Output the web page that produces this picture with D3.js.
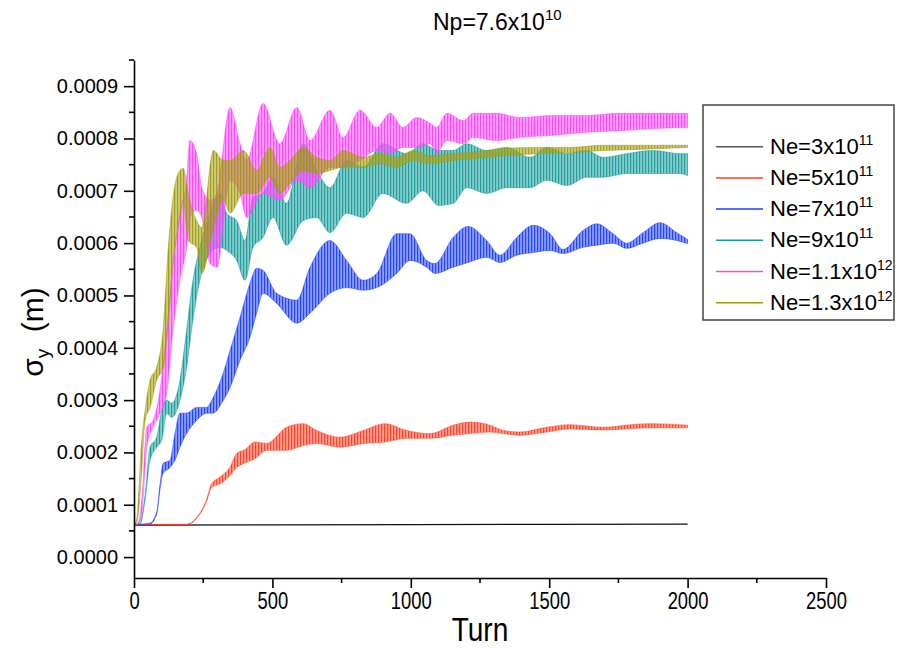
<!DOCTYPE html>
<html>
<head>
<meta charset="utf-8">
<script src="https://cdn.jsdelivr.net/npm/d3@7"></script>
<style>
  body { margin: 0; background: #fff; }
  #chart { width: 902px; height: 651px; }
  text { font-family: "Liberation Sans", Arial, sans-serif; fill: #000; }
</style>
</head>
<body>
<div id="chart"></div>
<script>
// Values (sigma_y in metres). Oscillating bands are given as low/high envelopes.
const xTicks = [0, 500, 1000, 1500, 2000, 2500];
const yTicks = [0, 0.0001, 0.0002, 0.0003, 0.0004, 0.0005, 0.0006, 0.0007, 0.0008, 0.0009];

const seriesNames = ['Ne=3x10', 'Ne=5x10', 'Ne=7x10', 'Ne=9x10', 'Ne=1.1x10', 'Ne=1.3x10'];
const seriesExponents = ['11', '11', '11', '11', '12', '12'];

const ne3Turns = [0, 500, 1000, 1500, 2000];
const ne3Low = [0.61e-4, 0.615e-4, 0.62e-4, 0.625e-4, 0.63e-4];
const ne3High = [0.61e-4, 0.615e-4, 0.62e-4, 0.625e-4, 0.63e-4];

const ne5Turns = [0, 190, 230, 262, 280, 311, 347, 371, 400, 437, 479, 551, 611, 660, 744, 828, 907, 985, 1069, 1153, 1214, 1286, 1334, 1394, 1491, 1575, 1695, 1816, 1864, 2000];
const ne5Low = [0.62e-4, 0.62e-4, 0.76e-4, 1.06e-4, 1.33e-4, 1.40e-4, 1.56e-4, 1.71e-4, 1.80e-4, 1.88e-4, 2.04e-4, 2.04e-4, 2.13e-4, 2.17e-4, 2.10e-4, 2.17e-4, 2.20e-4, 2.27e-4, 2.27e-4, 2.33e-4, 2.36e-4, 2.39e-4, 2.36e-4, 2.33e-4, 2.39e-4, 2.45e-4, 2.43e-4, 2.46e-4, 2.47e-4, 2.47e-4];
const ne5High = [0.62e-4, 0.63e-4, 0.78e-4, 1.10e-4, 1.40e-4, 1.53e-4, 1.72e-4, 1.98e-4, 2.05e-4, 2.20e-4, 2.17e-4, 2.48e-4, 2.55e-4, 2.42e-4, 2.29e-4, 2.42e-4, 2.55e-4, 2.42e-4, 2.36e-4, 2.52e-4, 2.58e-4, 2.52e-4, 2.42e-4, 2.39e-4, 2.48e-4, 2.53e-4, 2.48e-4, 2.54e-4, 2.55e-4, 2.52e-4];

const ne7Turns = [0, 58, 82, 94, 105, 130, 148, 166, 190, 226, 262, 286, 322, 347, 383, 419, 443, 466, 515, 588, 636, 708, 768, 828, 877, 949, 997, 1057, 1087, 1153, 1207, 1274, 1322, 1383, 1442, 1503, 1550, 1622, 1672, 1731, 1780, 1839, 1900, 1961, 2000];
const ne7Low = [0.62e-4, 0.63e-4, 0.82e-4, 1.30e-4, 1.60e-4, 1.71e-4, 1.85e-4, 2.10e-4, 2.36e-4, 2.61e-4, 2.75e-4, 2.75e-4, 2.99e-4, 3.24e-4, 3.76e-4, 4.20e-4, 4.66e-4, 5.04e-4, 4.85e-4, 4.47e-4, 4.66e-4, 5.04e-4, 5.15e-4, 5.10e-4, 5.15e-4, 5.42e-4, 5.67e-4, 5.54e-4, 5.42e-4, 5.54e-4, 5.63e-4, 5.73e-4, 5.63e-4, 5.77e-4, 5.82e-4, 5.86e-4, 5.80e-4, 5.92e-4, 5.96e-4, 6.00e-4, 5.90e-4, 6.00e-4, 6.09e-4, 6.05e-4, 5.99e-4];
const ne7High = [0.62e-4, 0.65e-4, 0.86e-4, 1.38e-4, 1.79e-4, 1.85e-4, 2.36e-4, 2.75e-4, 2.75e-4, 2.86e-4, 2.86e-4, 3.05e-4, 3.51e-4, 3.95e-4, 4.58e-4, 5.23e-4, 5.52e-4, 5.48e-4, 5.04e-4, 4.91e-4, 5.54e-4, 6.05e-4, 5.67e-4, 5.29e-4, 5.42e-4, 6.18e-4, 6.18e-4, 5.67e-4, 5.61e-4, 6.11e-4, 6.32e-4, 6.05e-4, 5.77e-4, 6.11e-4, 6.34e-4, 6.18e-4, 5.88e-4, 6.24e-4, 6.37e-4, 6.18e-4, 6.00e-4, 6.20e-4, 6.39e-4, 6.20e-4, 6.07e-4];

const ne9Turns = [0, 22, 40, 58, 82, 100, 118, 136, 166, 190, 213, 238, 275, 311, 335, 371, 401, 430, 466, 502, 551, 611, 660, 708, 768, 828, 899, 985, 1044, 1100, 1153, 1202, 1274, 1346, 1431, 1491, 1563, 1636, 1695, 1780, 1876, 1973, 2000];
const ne9Low = [0.62e-4, 0.63e-4, 1.10e-4, 1.85e-4, 2.10e-4, 2.23e-4, 2.75e-4, 2.67e-4, 2.99e-4, 3.63e-4, 4.54e-4, 5.29e-4, 5.80e-4, 5.92e-4, 5.86e-4, 5.67e-4, 5.29e-4, 5.92e-4, 6.11e-4, 6.49e-4, 5.96e-4, 6.43e-4, 6.49e-4, 6.20e-4, 6.57e-4, 6.49e-4, 6.95e-4, 6.76e-4, 7.00e-4, 6.72e-4, 6.76e-4, 7.06e-4, 6.95e-4, 7.06e-4, 7.06e-4, 7.20e-4, 7.10e-4, 7.26e-4, 7.26e-4, 7.33e-4, 7.33e-4, 7.33e-4, 7.29e-4];
const ne9High = [0.62e-4, 0.65e-4, 1.18e-4, 2.10e-4, 2.29e-4, 2.80e-4, 3.00e-4, 2.94e-4, 3.38e-4, 4.33e-4, 5.29e-4, 5.92e-4, 6.57e-4, 6.95e-4, 6.57e-4, 6.43e-4, 6.05e-4, 6.87e-4, 6.95e-4, 7.26e-4, 6.76e-4, 7.90e-4, 7.39e-4, 7.06e-4, 7.58e-4, 7.45e-4, 7.90e-4, 7.71e-4, 7.90e-4, 7.77e-4, 7.77e-4, 7.90e-4, 7.77e-4, 7.83e-4, 7.64e-4, 7.83e-4, 7.71e-4, 7.77e-4, 7.64e-4, 7.71e-4, 7.77e-4, 7.71e-4, 7.71e-4];

const ne11Turns = [0, 15, 28, 46, 69, 94, 118, 141, 166, 190, 202, 226, 245, 275, 299, 347, 383, 407, 466, 527, 588, 636, 708, 755, 817, 877, 925, 972, 1021, 1069, 1094, 1130, 1190, 1226, 1310, 1394, 1515, 1636, 1756, 1876, 2000];
const ne11Low = [0.62e-4, 0.63e-4, 0.83e-4, 2.10e-4, 2.48e-4, 2.75e-4, 3.13e-4, 4.33e-4, 5.29e-4, 5.92e-4, 6.49e-4, 6.63e-4, 6.49e-4, 5.61e-4, 5.54e-4, 7.20e-4, 6.95e-4, 6.49e-4, 6.95e-4, 6.82e-4, 7.20e-4, 7.06e-4, 7.45e-4, 7.45e-4, 7.58e-4, 7.77e-4, 7.71e-4, 7.83e-4, 7.83e-4, 7.90e-4, 7.73e-4, 7.96e-4, 7.90e-4, 8.02e-4, 7.96e-4, 8.02e-4, 8.06e-4, 8.12e-4, 8.15e-4, 8.19e-4, 8.21e-4];
const ne11High = [0.62e-4, 0.65e-4, 1.08e-4, 2.48e-4, 2.61e-4, 3.19e-4, 4.33e-4, 5.61e-4, 6.57e-4, 7.20e-4, 7.96e-4, 7.71e-4, 7.06e-4, 6.82e-4, 6.95e-4, 8.59e-4, 7.90e-4, 7.58e-4, 8.67e-4, 7.90e-4, 8.59e-4, 7.96e-4, 8.54e-4, 8.02e-4, 8.54e-4, 8.21e-4, 8.48e-4, 8.21e-4, 8.40e-4, 8.29e-4, 8.21e-4, 8.48e-4, 8.34e-4, 8.48e-4, 8.48e-4, 8.40e-4, 8.44e-4, 8.44e-4, 8.48e-4, 8.48e-4, 8.48e-4];

const ne13Turns = [0, 10, 28, 40, 58, 82, 106, 124, 141, 166, 178, 196, 226, 245, 287, 323, 347, 395, 443, 491, 527, 563, 611, 660, 708, 756, 828, 889, 949, 1009, 1069, 1153, 1214, 1334, 1455, 1575, 1695, 1816, 2000];
const ne13Low = [0.62e-4, 0.66e-4, 1.66e-4, 2.61e-4, 2.86e-4, 3.38e-4, 3.63e-4, 4.47e-4, 5.61e-4, 6.49e-4, 6.82e-4, 6.05e-4, 5.92e-4, 5.42e-4, 6.30e-4, 6.82e-4, 6.57e-4, 6.95e-4, 6.95e-4, 7.26e-4, 6.95e-4, 7.14e-4, 7.39e-4, 7.33e-4, 7.39e-4, 7.45e-4, 7.45e-4, 7.52e-4, 7.45e-4, 7.58e-4, 7.52e-4, 7.58e-4, 7.61e-4, 7.67e-4, 7.71e-4, 7.73e-4, 7.77e-4, 7.79e-4, 7.83e-4];
const ne13High = [0.62e-4, 0.74e-4, 2.23e-4, 2.80e-4, 3.38e-4, 3.63e-4, 4.39e-4, 5.92e-4, 6.87e-4, 7.39e-4, 7.43e-4, 6.95e-4, 6.43e-4, 6.30e-4, 7.77e-4, 7.58e-4, 7.58e-4, 7.77e-4, 7.39e-4, 7.83e-4, 7.45e-4, 7.58e-4, 7.83e-4, 7.64e-4, 7.58e-4, 7.77e-4, 7.64e-4, 7.71e-4, 7.64e-4, 7.77e-4, 7.67e-4, 7.71e-4, 7.73e-4, 7.81e-4, 7.83e-4, 7.83e-4, 7.87e-4, 7.87e-4, 7.87e-4];

const seriesColors = ['#111111', '#ff3b1f', '#1a3cff', '#12999a', '#ff40ff', '#9e9a08'];

const series = [
    { turns: ne3Turns, low: ne3Low, high: ne3High },
    { turns: ne5Turns, low: ne5Low, high: ne5High },
    { turns: ne7Turns, low: ne7Low, high: ne7High },
    { turns: ne9Turns, low: ne9Low, high: ne9High },
    { turns: ne11Turns, low: ne11Low, high: ne11High },
    { turns: ne13Turns, low: ne13Low, high: ne13High }
].map((s, i) => ({ ...s, name: seriesNames[i], exp: seriesExponents[i], color: seriesColors[i] }));

const svg = d3.select('#chart')
    .append('svg')
    .attr('width', 902)
    .attr('height', 651);

// Scales
const x = d3.scaleLinear().domain([0, 2500]).range([134, 826]);
const y = d3.scaleLinear().domain([-0.00004, 0.00095]).range([578, 60]);

// Stripe patterns so the bands look like dense oscillations
const defs = svg.append('defs');
series.forEach((s, i) => {
    const p = defs.append('pattern')
        .attr('id', `stripe${i}`)
        .attr('patternUnits', 'userSpaceOnUse')
        .attr('width', 3)
        .attr('height', 10);
    p.append('rect')
        .attr('width', 3)
        .attr('height', 10)
        .attr('fill', s.color)
        .attr('opacity', 0.5);
    p.append('rect')
        .attr('width', 1.2)
        .attr('height', 10)
        .attr('fill', s.color)
        .attr('opacity', 0.9);
});

// Bands
const plot = svg.append('g');
series.forEach((s, i) => {
    const idx = d3.range(s.turns.length);
    if (i === 0) {
        const line = d3.line()
            .x(j => x(s.turns[j]))
            .y(j => y(s.low[j]));
        plot.append('path')
            .datum(idx)
            .attr('d', line)
            .attr('fill', 'none')
            .attr('stroke', s.color)
            .attr('stroke-width', 1.3);
        return;
    }
    const area = d3.area()
        .x(j => x(s.turns[j]))
        .y0(j => y(s.low[j]))
        .y1(j => y(s.high[j]))
        .curve(d3.curveMonotoneX);
    plot.append('path')
        .datum(idx)
        .attr('d', area)
        .attr('fill', `url(#stripe${i})`)
        .attr('stroke', s.color)
        .attr('stroke-opacity', 0.5)
        .attr('stroke-width', 1)
        .attr('stroke-linejoin', 'round');
});

// X axis
const xMinor = d3.range(250, 2500, 500);
const xAxis = svg.append('g').attr('transform', 'translate(0,578)');
xAxis.call(d3.axisBottom(x).tickValues(xTicks).tickSize(10).tickSizeOuter(0).tickPadding(5).tickFormat(d3.format('d')));
// condensed look of the tick labels
xAxis.selectAll('.tick text')
    .style('font-size', '23px')
    .attr('transform', 'scale(0.8,1)');
xAxis.selectAll('line, path').attr('stroke', '#000').attr('stroke-width', 1.6);
xAxis.selectAll('.minor')
    .data(xMinor)
    .enter()
    .append('line')
    .attr('x1', d => x(d))
    .attr('x2', d => x(d))
    .attr('y1', 0)
    .attr('y2', 5)
    .attr('stroke', '#000')
    .attr('stroke-width', 1.6);

// Y axis
const yMinor = d3.range(0.00005, 0.00096, 0.0001);
const yAxis = svg.append('g').attr('transform', 'translate(134,0)');
yAxis.call(d3.axisLeft(y).tickValues(yTicks).tickSize(10).tickSizeOuter(0).tickPadding(6).tickFormat(d3.format('.4f')));
yAxis.selectAll('.tick text').style('font-size', '20px');
yAxis.selectAll('line, path').attr('stroke', '#000').attr('stroke-width', 1.6);
yAxis.selectAll('.minor')
    .data(yMinor)
    .enter()
    .append('line')
    .attr('x1', 0)
    .attr('x2', -5)
    .attr('y1', d => y(d))
    .attr('y2', d => y(d))
    .attr('stroke', '#000')
    .attr('stroke-width', 1.6);

// Title
const title = svg.append('text')
    .attr('x', 433)
    .attr('y', 30)
    .style('font-size', '23px');
title.append('tspan').text('Np=7.6x10');
title.append('tspan').attr('dy', -10).style('font-size', '15px').text('10');

// Axis labels
svg.append('text')
    .attr('transform', 'translate(480,641) scale(0.85,1)')
    .attr('text-anchor', 'middle')
    .style('font-size', '33px')
    .text('Turn');

const yLabel = svg.append('text')
    .attr('transform', 'translate(43,332) rotate(-90)')
    .attr('text-anchor', 'middle')
    .style('font-size', '30px');
yLabel.append('tspan').text('σ');
yLabel.append('tspan').attr('dy', 6).style('font-size', '19px').text('y');
yLabel.append('tspan').attr('dy', -6).text('\u00a0\u00a0(m)');

// Legend
const legend = svg.append('g').attr('transform', 'translate(703,105)');
legend.append('rect')
    .attr('width', 191)
    .attr('height', 215)
    .attr('fill', '#fff')
    .attr('stroke', '#444')
    .attr('stroke-width', 1.5);

series.forEach((s, i) => {
    const item = legend.append('g').attr('transform', `translate(0, ${41.7 + i * 31.2})`);
    item.append('line')
        .attr('x1', 13)
        .attr('x2', 60)
        .attr('stroke', i === 0 ? '#555' : s.color)
        .attr('stroke-width', 1.5);
    const t = item.append('text')
        .attr('x', 67)
        .attr('y', 7)
        .style('font-size', '22px');
    t.append('tspan').text(s.name);
    t.append('tspan').attr('dy', -9).style('font-size', '14px').text(s.exp);
});
</script>
</body>
</html>
